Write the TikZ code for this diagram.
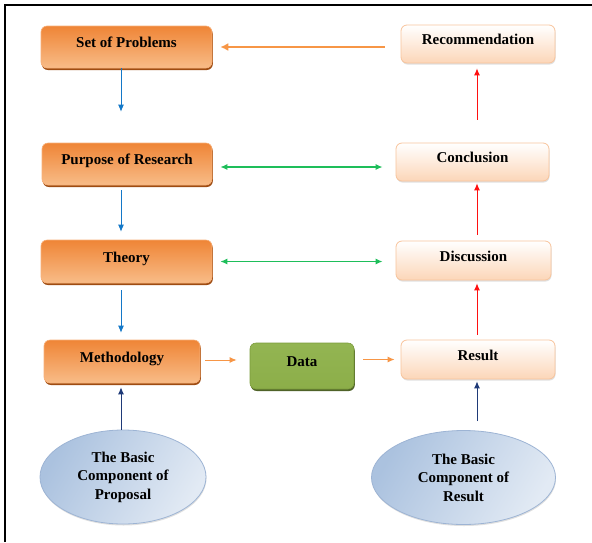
\documentclass[tikz,border=0pt]{standalone}
\usepackage{fontspec}
\setmainfont{Liberation Serif}
\usetikzlibrary{arrows.meta,shadows,shapes.geometric}
\definecolor{orA}{HTML}{EF8536}
\definecolor{orB}{HTML}{F39A50}
\definecolor{orC}{HTML}{F8BC88}
\definecolor{orEdge}{HTML}{F7B07A}
\definecolor{orShadow}{HTML}{9E4C12}
\definecolor{pkA}{HTML}{FFFFFF}
\definecolor{pkB}{HTML}{FCD6B8}
\definecolor{pkEdge}{HTML}{F8C49C}
\definecolor{grA}{HTML}{93B552}
\definecolor{grB}{HTML}{B5D083}
\definecolor{grC}{HTML}{8CAE49}
\definecolor{grEdge}{HTML}{7C9C3C}
\definecolor{grShadow}{HTML}{4F6228}
\definecolor{blA}{HTML}{ABC2DF}
\definecolor{blB}{HTML}{E2EAF4}
\definecolor{blEdge}{HTML}{9DB4D4}
\definecolor{arOr}{HTML}{F79646}
\definecolor{arBl}{HTML}{1478C8}
\definecolor{arGr}{HTML}{1EBE5A}
\definecolor{arRd}{HTML}{FF1010}
\definecolor{arNv}{HTML}{1F3A78}
\tikzset{
  x=1pt, y=-1pt,
  tipL/.tip={Latex[length=7pt,width=6pt]},
  lbl/.style={font=\fontsize{15}{18.5}\selectfont\bfseries, text=black},
  boxtxt/.style={text height=10pt, text depth=9pt},
  orbox/.style={lbl, boxtxt, rectangle, rounded corners=6pt, draw=orEdge, line width=0.6pt,
    top color=orA, middle color=orB, bottom color=orC,
    drop shadow={shadow xshift=0.8pt, shadow yshift=-2pt, fill=orShadow, opacity=1}},
  pkbox/.style={lbl, boxtxt, rectangle, rounded corners=6pt, draw=pkEdge, line width=0.8pt,
    top color=pkA, bottom color=pkB,
    drop shadow={shadow xshift=0.5pt, shadow yshift=-1.5pt, fill=black, opacity=0.12}},
  grbox/.style={lbl, boxtxt, rectangle, rounded corners=6pt, draw=grEdge, line width=0.6pt,
    top color=grA, middle color=grB, bottom color=grC,
    drop shadow={shadow xshift=0.8pt, shadow yshift=-2pt, fill=grShadow, opacity=1}},
  blell/.style={lbl, ellipse, draw=blEdge, line width=0.8pt, align=center, inner sep=0pt,
    left color=blA, right color=blB, shading angle=60,
    drop shadow={shadow xshift=0.5pt, shadow yshift=-1.5pt, fill=black, opacity=0.12}},
  tip/.style={-{tipL}},
  arorbig/.style={draw=arOr, line width=2pt, -{Latex[length=8pt,width=8pt]}},
  arorsm/.style={tip, draw=arOr, line width=1pt},
  arbl/.style={tip, draw=arBl, line width=0.9pt},
  argr/.style={draw=arGr, line width=1.3pt, {tipL}-{tipL}},
  arrd/.style={tip, draw=arRd, line width=0.9pt},
  arnv/.style={tip, draw=arNv, line width=0.9pt},
}
\begin{document}
\begin{tikzpicture}
\useasboundingbox (0,0) rectangle (592,542);
\fill[white] (0,0) rectangle (592,542);
\draw[line width=2pt] (5,542) -- (5,5) -- (592,5);

\coordinate (lc) at (121,0);
\coordinate (rc) at (477,0);

\node[orbox, minimum width=171pt, minimum height=42pt] (sp) at (126.5,47) {Set of Problems};
\node[orbox, minimum width=170pt, minimum height=42pt] (pr) at (127,164) {Purpose of Research};
\node[orbox, minimum width=171pt, minimum height=43pt] (th) at (126.5,261.5) {Theory};
\node[orbox, minimum width=156pt, minimum height=43pt] (me) at (122,361.5) {Methodology};
\node[grbox, minimum width=104pt, minimum height=46pt] (da) at (302,366) {Data};
\node[pkbox, minimum width=154pt, minimum height=38pt] (rec) at (478,44) {Recommendation};
\node[pkbox, minimum width=153pt, minimum height=38pt] (con) at (472.5,162) {Conclusion};
\node[pkbox, minimum width=155pt, minimum height=39pt] (dis) at (473.5,260.5) {Discussion};
\node[pkbox, minimum width=154pt, minimum height=39pt] (res) at (478,359.5) {Result};
\node[blell, minimum width=166pt, minimum height=94pt] (e1) at (123,477) {The Basic\\Component of\\Proposal};
\node[blell, minimum width=184pt, minimum height=94pt] (e2) at (463.5,477.5) {The Basic\\Component of\\Result};

% orange feedback
\draw[arorbig, shorten <=16pt, shorten >=8pt] ([yshift=-3pt]rec.west) -- ([yshift=-3pt]rec.west -| sp.east);
% blue chain
\draw[arbl, shorten >=31pt] (sp.south -| lc) -- (pr.north -| lc);
\draw[arbl, shorten <=5pt, shorten >=8pt] (pr.south -| lc) -- (th.north -| lc);
\draw[arbl, shorten <=7pt, shorten >=7pt] (th.south -| lc) -- (me.north -| lc);
% green double arrows
\draw[argr, shorten <=8pt, shorten >=13pt] ([yshift=-3pt]pr.east) -- ([yshift=-3pt]pr.east -| con.west);
\draw[argr, shorten <=8pt, shorten >=13pt] (th.east) -- (th.east -| dis.west);
% orange small
\draw[arorsm, shorten <=5pt, shorten >=13pt] ([yshift=1.5pt]me.east) -- ([yshift=1.5pt]me.east -| da.west);
\draw[arorsm, shorten <=9pt, shorten >=6pt] (res.west -| da.east) -- (res.west);
% red chain
\draw[arrd, shorten <=5pt, shorten >=3pt] (res.north -| rc) -- (dis.south -| rc);
\draw[arrd, shorten <=6pt, shorten >=2pt] (dis.north -| rc) -- (con.south -| rc);
\draw[arrd, shorten <=23pt, shorten >=5pt] (con.north -| rc) -- (rec.south -| rc);
% navy from ellipses
\draw[arnv, shorten >=4pt] (e1.north -| lc) -- (me.south -| lc);
\draw[arnv, shorten <=9pt, shorten >=2pt] (e2.north -| rc) -- (res.south -| rc);
\end{tikzpicture}
\end{document}
